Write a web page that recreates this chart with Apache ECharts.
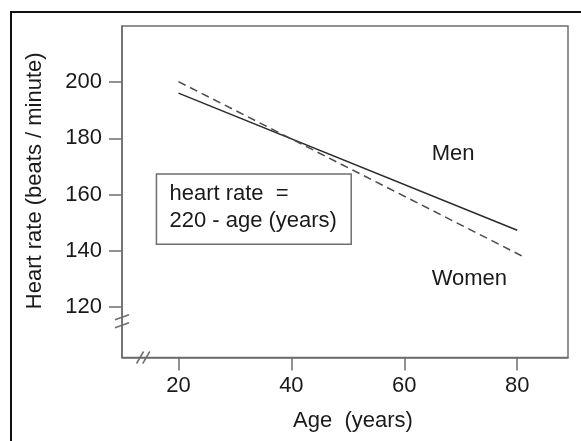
<!DOCTYPE html>
<html><head><meta charset="utf-8">
<script src="https://cdn.jsdelivr.net/npm/echarts@6/dist/echarts.min.js"></script>
<style>html,body{margin:0;padding:0;background:#fff}#c{width:581px;height:441px}</style>
</head><body><div id="c"></div>
<script>
// Data
const xTicks = [20, 40, 60, 80];
const yTicks = [120, 140, 160, 180, 200];
const menAges = [20, 80];
const menHR = [196.1, 147.3];
const womenAges = [20, 80.8];
const womenHR = [200.2, 138.2];
const labels = { men: 'Men', women: 'Women', box1: 'heart rate  =', box2: '220 - age (years)' };
const xTitle = 'Age  (years)';
const yTitle = 'Heart rate (beats / minute)';

const FONT = 'Liberation Sans, Arial, Helvetica, sans-serif';
const FS = 22;
const TXT = '#1a1a1a';
const AX = '#6e6e6e';

const chart = echarts.init(document.getElementById('c'), null, { renderer: 'canvas' });
const option = {
  animation: false,
  backgroundColor: '#fff',
  grid: { left: 122, right: 13, top: 26, bottom: 83.5, show: true, borderColor: AX, borderWidth: 1.5,
    backgroundColor: 'transparent', containLabel: false, outerBoundsMode: 'none' },
  xAxis: {
    type: 'value', min: 10, max: 89,
    name: xTitle, nameLocation: 'middle', nameGap: 52,
    nameTextStyle: { fontFamily: FONT, fontSize: FS, color: TXT, padding: [0, 0, 0, 16] },
    axisLine: { show: true, lineStyle: { color: AX, width: 1.5 } },
    axisTick: { show: true, customValues: xTicks, length: 13, lineStyle: { color: AX, width: 1.5 } },
    axisLabel: { customValues: xTicks, margin: 17, fontFamily: FONT, fontSize: FS, color: TXT },
    splitLine: { show: false }
  },
  yAxis: {
    type: 'value', min: 102, max: 220,
    name: yTitle, nameLocation: 'middle', nameGap: 76,
    nameTextStyle: { fontFamily: FONT, fontSize: FS, color: TXT, padding: [0, 0, 0, 22] },
    axisLine: { show: true, lineStyle: { color: AX, width: 1.5 } },
    axisTick: { show: true, customValues: yTicks, length: 13, lineStyle: { color: AX, width: 1.5 } },
    axisLabel: { customValues: yTicks, margin: 20, fontFamily: FONT, fontSize: FS, color: TXT },
    splitLine: { show: false }
  },
  series: [
    { name: 'Men', type: 'line', symbol: 'none', data: menAges.map((a, i) => [a, menHR[i]]),
      lineStyle: { color: '#2a2a2a', width: 1.5 } },
    { name: 'Women', type: 'line', symbol: 'none', data: womenAges.map((a, i) => [a, womenHR[i]]),
      lineStyle: { color: '#4a4a4a', width: 1.5, type: [8, 5] } }
  ]
};
chart.setOption(option);

function px(x, y) { return chart.convertToPixel({ gridIndex: 0 }, [x, y]); }
const g = [];
// outer frame (top and left visible)
g.push({ type: 'rect', shape: { x: 11, y: 12, width: 700, height: 600 }, style: { fill: null, stroke: '#111', lineWidth: 2 }, z: 100 });
// annotation box
const b1 = px(16.1, 167.3), b2 = px(50.6, 142.3);
g.push({ type: 'rect', shape: { x: b1[0], y: b1[1], width: b2[0] - b1[0], height: b2[1] - b1[1] }, style: { fill: '#fff', stroke: AX, lineWidth: 1.5 }, z: 50 });
const t1 = px(18.4, 160.3), t2 = px(18.4, 150.5);
g.push({ type: 'text', x: t1[0], y: t1[1], style: { text: labels.box1, font: FS + 'px ' + FONT, fill: TXT, verticalAlign: 'middle', align: 'left' }, z: 51 });
g.push({ type: 'text', x: t2[0], y: t2[1], style: { text: labels.box2, font: FS + 'px ' + FONT, fill: TXT, verticalAlign: 'middle', align: 'left' }, z: 51 });
// series labels
const m = px(64.85, 174.4), w = px(64.85, 130);
g.push({ type: 'text', x: m[0], y: m[1], style: { text: labels.men, font: FS + 'px ' + FONT, fill: TXT, verticalAlign: 'middle', align: 'left' }, z: 51 });
g.push({ type: 'text', x: w[0], y: w[1], style: { text: labels.women, font: FS + 'px ' + FONT, fill: TXT, verticalAlign: 'middle', align: 'left' }, z: 51 });
// axis break marks
const yb1 = px(10, 116.3), yb2 = px(10, 113.5);
[yb1, yb2].forEach(p => g.push({ type: 'line', shape: { x1: p[0] - 7, y1: p[1] + 2.5, x2: p[0] + 7, y2: p[1] - 2.5 }, style: { stroke: AX, lineWidth: 1.5 }, z: 60 }));
const xb1 = px(13.2, 102), xb2 = px(14.3, 102);
[xb1, xb2].forEach(p => g.push({ type: 'line', shape: { x1: p[0] - 3.5, y1: p[1] + 6, x2: p[0] + 3.5, y2: p[1] - 6 }, style: { stroke: AX, lineWidth: 1.5 }, z: 60 }));
chart.setOption({ graphic: g });
</script></body></html>
